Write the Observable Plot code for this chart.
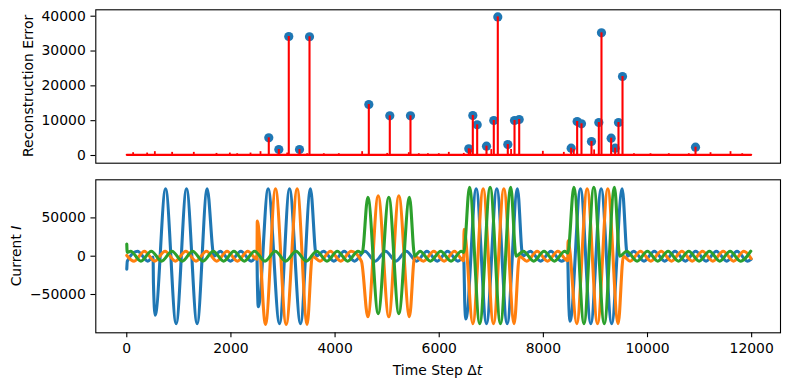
<!DOCTYPE html>
<html>
<head>
<meta charset="utf-8">
<script src="https://cdn.jsdelivr.net/npm/d3@7"></script>
<script src="https://cdn.jsdelivr.net/npm/@observablehq/plot@0.6"></script>
<style>
  body { margin: 0; background: #fff; }
  #wrap { position: relative; width: 790px; height: 389px; background: #fff; }
  #wrap svg { position: absolute; left: 0; display: block; }
</style>
</head>
<body>
<div id="wrap"></div>
<script>
// ---------- tick labels ----------
const timeTicks = [0, 2000, 4000, 6000, 8000, 10000, 12000];
const errorTicks = [0, 10000, 20000, 30000, 40000];
const currentTicks = [-50000, 0, 50000];

// ---------- top panel: reconstruction error ----------
const anomalyT = [2727, 2920, 3111, 3317, 3509, 4648, 5051, 5448, 6568, 6645, 6729, 6908, 7048, 7125, 7317, 7446, 7536,
                  8534, 8649, 8732, 8924, 9065, 9116, 9302, 9379, 9443, 9520, 10922];
const anomalyV = [5080, 1720, 34170, 1720, 34100, 14640, 11390, 11390, 1920, 11480, 8800, 2680, 10050, 39800, 3160, 10050, 10340,
                  2100, 9760, 9100, 4020, 9470, 35220, 4970, 2100, 9470, 22680, 2390];
const minorT = [122, 391, 539, 871, 1287, 1723, 1979, 2120, 2376, 2568, 3080, 3464, 3784, 4072, 4520, 5001, 5416, 5608,
                5783, 5992, 6184, 6472, 6600, 7000, 7380, 7990, 8393, 8585, 8975, 9740, 10057, 10409, 10793, 11210, 11594, 11819];
const minorV = [800, 700, 1100, 900, 900, 600, 700, 500, 700, 1100, 700, 500, 500, 500, 1100, 600, 800, 500,
                500, 500, 900, 600, 1700, 1700, 1700, 1200, 900, 1700, 1600, 500, 500, 500, 500, 800, 1100, 500];
const baseT = [0, 11990];
const baseV = [200, 200];

// ---------- bottom panel: phase currents (extrema) ----------
const phaseA = [[0,-17000],[10,-6500],[206,6500],[404,-6500],[505,-1000],[512,-35000],[545,-77000],[745,88000],[948,-88000],
  [1147,88000],[1351,-88000],[1544,88000],[1675,0],[1794,6500],[1992,-6500],[2191,6500],[2389,-6500],[2500,-500],[2507,-30000],
  [2525,-66000],[2715,88000],[2933,-88000],[3125,88000],[3336,-88000],[3528,88000],[3640,0],[3779,6500],[3977,-6500],[4176,6500],
  [4374,-6500],[4573,6500],[4771,-6500],[4970,6500],[5168,-6500],[5367,6500],[5565,-6500],[5764,6500],[5962,-6500],[6161,6500],
  [6359,-6500],[6470,-2000],[6476,-12000],[6490,-60000],[6512,-82000],[6710,88000],[6908,-88000],[7106,88000],[7305,-88000],
  [7503,88000],[7603,0],[7749,6500],[7948,-6500],[8146,6500],[8345,-6500],[8468,-3000],[8474,-18000],[8485,-55000],[8513,-85000],
  [8713,88000],[8911,-88000],[9110,88000],[9312,-88000],[9514,88000],[9614,0],[9734,6500],[9933,-6500],[10131,6500],[10330,-6500],
  [10528,6500],[10727,-6500],[10925,6500],[11124,-6500],[11322,6500],[11521,-6500],[11719,6500],[11918,-6500],[11990,-4000]];
const phaseB = [[0,1000],[140,-6500],[338,6500],[536,-6500],[735,6500],[933,-6500],[1132,6500],[1330,-6500],[1529,6500],
  [1727,-6500],[1926,6500],[2124,-6500],[2323,6500],[2500,-4000],[2506,46000],[2664,-89000],[2856,88000],[3061,-89000],
  [3272,88000],[3464,-89000],[3564,0],[3712,-6500],[3911,6500],[4109,-6500],[4308,6500],[4506,-6500],[4629,-79000],[4828,79000],
  [5032,-79000],[5224,79000],[5429,-79000],[5529,0],[5697,-6500],[5896,6500],[6094,-6500],[6293,6500],[6470,-6000],[6477,35000],
  [6645,-88000],[6844,88000],[7042,-88000],[7241,88000],[7440,-88000],[7540,0],[7682,-6500],[7881,6500],[8079,-6500],[8278,6500],
  [8468,-6000],[8474,20000],[8641,-88000],[8841,88000],[9040,-88000],[9237,88000],[9437,-88000],[9537,0],[9667,-6500],[9866,6500],
  [10064,-6500],[10263,6500],[10461,-6500],[10660,6500],[10858,-6500],[11057,6500],[11255,-6500],[11454,6500],[11652,-6500],
  [11851,6500],[11990,-3000]];
const phaseC = [[0,16000],[8,5000],[73,6500],[272,-6500],[470,6500],[669,-6500],[867,6500],[1066,-6500],[1264,6500],[1463,-6500],
  [1661,6500],[1860,-6500],[2058,6500],[2257,-6500],[2455,6500],[2654,-6500],[2852,6500],[3051,-6500],[3249,6500],[3448,-6500],
  [3646,6500],[3845,-6500],[4043,6500],[4242,-6500],[4440,6500],[4520,4000],[4629,77000],[4828,-75000],[5032,77000],[5224,-75000],
  [5429,77000],[5529,0],[5631,6500],[5830,-6500],[6028,6500],[6227,-6500],[6425,6500],[6472,5000],[6581,90000],[6778,-88000],
  [6978,90000],[7176,-88000],[7375,90000],[7475,0],[7616,6500],[7815,-6500],[8013,6500],[8212,-6500],[8410,6500],[8470,4000],
  [8585,90000],[8780,-88000],[8969,90000],[9170,-88000],[9366,90000],[9466,0],[9601,6500],[9800,-6500],[9998,6500],[10197,-6500],
  [10395,6500],[10594,-6500],[10792,6500],[10991,-6500],[11189,6500],[11388,-6500],[11586,6500],[11785,-6500],[11983,6500]];

// ---------- build tables ----------
const anomalies = anomalyT.map((t, i) => ({t, v: anomalyV[i]}));
const minors = minorT.map((t, i) => ({t, v: minorV[i]}));
const base = baseT.map((t, i) => ({t, v: baseV[i]}));
const fmt = d => d < 0 ? "\u2212" + Math.abs(d) : String(d);

const FONT = "DejaVu Sans";
const xDomain = [-595, 12554];
const axisOpts = {tickSize: 4.86, strokeWidth: 1.1, label: null, tickFormat: fmt};

const topPlot = Plot.plot({
  width: 790, height: 172,
  marginLeft: 95.3, marginRight: 10, marginTop: 9.3, marginBottom: 9.3,
  style: {fontFamily: FONT, fontSize: "13.9px", background: "transparent", color: "black", overflow: "visible"},
  x: {domain: xDomain, axis: null},
  y: {domain: [-2211, 41838]},
  marks: [
    Plot.dot(anomalies, {x: "t", y: "v", r: 4.6, fill: "#1f77b4", stroke: null}),
    Plot.line(base, {x: "t", y: "v", stroke: "#ff0000", strokeWidth: 2.2}),
    Plot.ruleX(minors, {x: "t", y1: 200, y2: "v", stroke: "#ff0000", strokeWidth: 1.8}),
    Plot.ruleX(anomalies, {x: "t", y1: 200, y2: "v", stroke: "#ff0000", strokeWidth: 2.1}),
    Plot.axisY(errorTicks, {...axisOpts, tickPadding: 5.2}),
    Plot.frame({stroke: "black", strokeWidth: 1.1})
  ]
});

const lineOpts = {x: d => d[0], y: d => d[1], curve: "monotone-x", strokeWidth: 3.1};
const botPlot = Plot.plot({
  width: 790, height: 217,
  marginLeft: 95.3, marginRight: 10, marginTop: 7.3, marginBottom: 56.7,
  style: {fontFamily: FONT, fontSize: "13.9px", background: "transparent", color: "black", overflow: "visible"},
  x: {domain: xDomain},
  y: {domain: [-100000, 99739]},
  marks: [
    Plot.line(phaseA, {...lineOpts, stroke: "#1f77b4"}),
    Plot.line(phaseB, {...lineOpts, stroke: "#ff7f0e"}),
    Plot.line(phaseC, {...lineOpts, stroke: "#2ca02c"}),
    Plot.axisY(currentTicks, {...axisOpts, tickPadding: 5.2}),
    Plot.axisX(timeTicks, {...axisOpts, tickPadding: 5.8}),
    Plot.frame({stroke: "black", strokeWidth: 1.1})
  ]
});

const wrap = document.getElementById("wrap");
topPlot.style.top = "0px";
botPlot.style.top = "172px";
wrap.appendChild(topPlot);
wrap.appendChild(botPlot);

// axis titles
d3.select(topPlot).append("text")
  .attr("transform", "translate(33.3,86) rotate(-90)")
  .attr("text-anchor", "middle")
  .attr("font-family", FONT).attr("font-size", "13.9px").attr("fill", "black")
  .text("Reconstruction Error");

const cur = d3.select(botPlot).append("text")
  .attr("transform", "translate(20.7,84) rotate(-90)")
  .attr("text-anchor", "middle")
  .attr("font-family", FONT).attr("font-size", "13.9px").attr("fill", "black");
cur.append("tspan").text("Current ");
cur.append("tspan").attr("font-style", "italic").text("I");

const xt = d3.select(botPlot).append("text")
  .attr("x", 437.5).attr("y", 203)
  .attr("text-anchor", "middle")
  .attr("font-family", FONT).attr("font-size", "13.9px").attr("fill", "black");
xt.append("tspan").text("Time Step \u0394");
xt.append("tspan").attr("font-style", "italic").text("t");
</script>
</body>
</html>
